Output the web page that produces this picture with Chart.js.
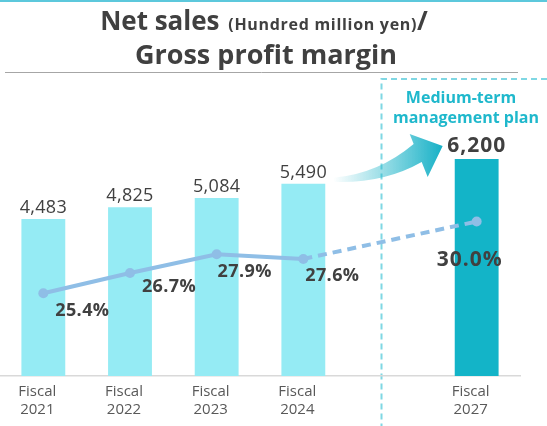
<!DOCTYPE html>
<html>
<head>
<meta charset="utf-8">
<script src="https://cdn.jsdelivr.net/npm/chart.js@4.4.1/dist/chart.umd.min.js"></script>
<style>
    html, body { margin: 0; padding: 0; background: #fff; }
    #wrap { width: 547px; height: 426px; position: relative; }
</style>
</head>
<body>
<div id="wrap"><canvas id="salesChart" width="547" height="426"></canvas></div>
<script>
// fiscal years, the empty slot keeps the gap before the plan year
const years = [['Fiscal', '2021'], ['Fiscal', '2022'], ['Fiscal', '2023'], ['Fiscal', '2024'], '', ['Fiscal', '2027']];
const netSales = [4483, 4825, 5084, 5490, null, 6200];
const grossMargin = [25.4, 26.7, 27.9, 27.6, null, 30.0];
const salesLabels = ['4,483', '4,825', '5,084', '5,490', '', '6,200'];
const marginLabels = ['25.4%', '26.7%', '27.9%', '27.6%', '', '30.0%'];

const FONT = '"Open Sans", "Noto Sans", sans-serif';
const TEXT = '#404040';
const BAR_LIGHT = '#95ebf4';
const BAR_PLAN = '#13b4c8';
const LINE_BLUE = '#8fbee6';
const PLAN_CYAN = '#1fb8cc';
const BOX_CYAN = '#7fd7e3';

// where the margin labels sit relative to their points
const marginOffsets = [[39, 23], [39, 19], [28, 23], [29, 22], [0, 0], [-7, 44]];

const decorPlugin = {
    id: 'decor',
    beforeDraw(chart) {
        const ctx = chart.ctx;
        const x = chart.scales.x;
        ctx.save();

        // thin cyan rule at the very top
        ctx.fillStyle = '#5cc8dc';
        ctx.fillRect(0, 0, chart.width, 2);

        // heading
        ctx.fillStyle = TEXT;
        ctx.textBaseline = 'alphabetic';
        const big = 'bold 26px ' + FONT;
        const small = 'bold 16px ' + FONT;
        ctx.font = big;
        const w1 = ctx.measureText('Net sales ').width + 2;
        const w3 = ctx.measureText('/').width;
        ctx.font = small;
        ctx.letterSpacing = '0.7px';
        const w2 = ctx.measureText('(Hundred million yen)').width;
        ctx.letterSpacing = '0px';
        const tx = 264 - (w1 + w2 + w3) / 2;
        ctx.textAlign = 'left';
        ctx.font = big;
        ctx.fillText('Net sales ', tx, 30);
        ctx.font = small;
        ctx.letterSpacing = '0.7px';
        ctx.fillText('(Hundred million yen)', tx + w1, 30);
        ctx.letterSpacing = '0px';
        ctx.font = big;
        ctx.fillText('/', tx + w1 + w2, 30);
        ctx.textAlign = 'center';
        ctx.font = 'bold 27px ' + FONT;
        ctx.fillText('Gross profit margin', 266, 64);

        ctx.strokeStyle = '#a6a6a6';
        ctx.lineWidth = 1;
        ctx.beginPath();
        ctx.moveTo(5, 72.5);
        ctx.lineTo(518, 72.5);
        ctx.stroke();

        // dashed frame around the plan year
        const boxX = Math.round(x.getPixelForValue(4) - 9) + 0.5;
        ctx.strokeStyle = BOX_CYAN;
        ctx.lineWidth = 2;
        ctx.setLineDash([6, 4]);
        ctx.beginPath();
        ctx.moveTo(chart.width, 79);
        ctx.lineTo(boxX, 79);
        ctx.lineTo(boxX, chart.height);
        ctx.stroke();
        ctx.setLineDash([]);

        ctx.fillStyle = PLAN_CYAN;
        ctx.font = 'bold 16px ' + FONT;
        ctx.fillText('Medium-term', 461, 103);
        ctx.fillText('management plan', 466, 123);
        ctx.restore();
    },
    afterDatasetsDraw(chart) {
        const ctx = chart.ctx;
        const points = chart.getDatasetMeta(0).data;
        const bars = chart.getDatasetMeta(1).data;
        ctx.save();

        // arrow from the latest result up to the plan figure
        const from = bars[3];
        const to = bars[5];
        const tx0 = from.x + from.width / 2 + 8;
        const ty0 = from.y - 4;
        const px = to.x - 34;
        const py = to.y - 13;
        const grad = ctx.createLinearGradient(tx0, 0, px, 0);
        grad.addColorStop(0, 'rgba(31,181,201,0)');
        grad.addColorStop(0.45, 'rgba(31,181,201,0.45)');
        grad.addColorStop(1, 'rgba(22,176,198,1)');
        ctx.fillStyle = grad;
        ctx.beginPath();
        ctx.moveTo(tx0, ty0 - 2);
        ctx.quadraticCurveTo(tx0 + 45, ty0 - 6, px - 29, py - 2);
        ctx.lineTo(px - 33, py - 12);
        ctx.lineTo(px, py);
        ctx.lineTo(px - 15, py + 31);
        ctx.lineTo(px - 21, py + 16);
        ctx.quadraticCurveTo(tx0 + 50, ty0 + 4, tx0, ty0 + 2);
        ctx.closePath();
        ctx.fill();

        // value labels on the bars
        ctx.textAlign = 'center';
        ctx.textBaseline = 'alphabetic';
        ctx.fillStyle = TEXT;
        bars.forEach((bar, i) => {
            if (netSales[i] === null) return;
            const plan = i === 5;
            ctx.font = (plan ? 'bold 21px ' : '18px ') + FONT;
            ctx.letterSpacing = plan ? '1px' : '0.3px';
            ctx.fillText(salesLabels[i], bar.x, bar.y - (plan ? 7 : 6));
        });

        // margin labels next to the line points
        points.forEach((pt, i) => {
            if (grossMargin[i] === null) return;
            const plan = i === 5;
            ctx.font = (plan ? 'bold 21px ' : 'bold 18px ') + FONT;
            ctx.letterSpacing = plan ? '1px' : '0.4px';
            const off = marginOffsets[i];
            ctx.fillText(marginLabels[i], pt.x + off[0], pt.y + off[1]);
        });
        ctx.restore();
    }
};

new Chart(document.getElementById('salesChart'), {
    data: {
        labels: years,
        datasets: [{
            type: 'line',
            data: grossMargin,
            yAxisID: 'y2',
            order: 0,
            spanGaps: true,
            borderColor: LINE_BLUE,
            backgroundColor: LINE_BLUE,
            borderWidth: 4,
            pointRadius: 5,
            pointBorderWidth: 0,
            pointBackgroundColor: LINE_BLUE,
            tension: 0,
            segment: {
                borderDash: ctx => ctx.p1DataIndex === 5 ? [9, 6] : undefined
            }
        }, {
            type: 'bar',
            data: netSales,
            yAxisID: 'y',
            order: 1,
            backgroundColor: netSales.map((v, i) => i === 5 ? BAR_PLAN : BAR_LIGHT),
            barPercentage: 0.506,
            categoryPercentage: 1.0
        }]
    },
    options: {
        responsive: false,
        animation: false,
        plugins: {
            legend: { display: false },
            tooltip: { enabled: false }
        },
        layout: {
            autoPadding: false,
            padding: { top: 131, right: 27, left: 0, bottom: 0 }
        },
        scales: {
            x: {
                grid: { display: false, drawTicks: false },
                border: { display: true, color: '#d9d9d9', width: 1.5 },
                ticks: {
                    color: '#595959',
                    font: { family: FONT, size: 15, lineHeight: 1.25 },
                    padding: 6,
                    labelOffset: -6,
                    maxRotation: 0,
                    autoSkip: false
                },
                afterFit: scale => {
                    // fixed label band, no extra side padding for the tick text
                    scale.height = 50;
                    scale.paddingLeft = 0;
                    scale.paddingRight = 0;
                }
            },
            y: { display: false, min: 0, max: 7000 },
            y2: { display: false, min: 20.1, max: 35.8 }
        }
    },
    plugins: [decorPlugin]
});
</script>
</body>
</html>
